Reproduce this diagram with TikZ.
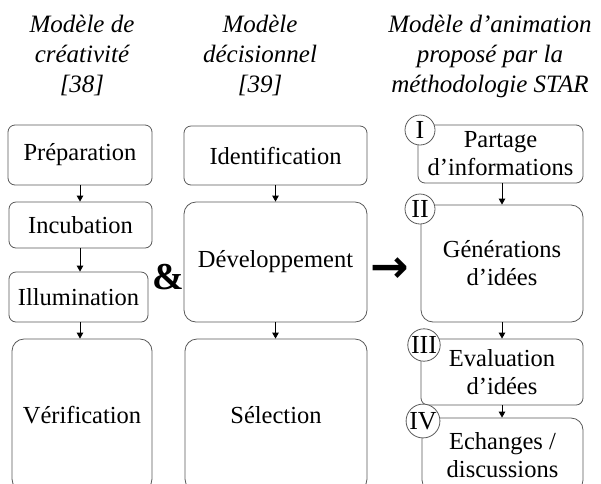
\documentclass[tikz,border=0pt]{standalone}
\usepackage{fontspec}
\setmainfont{Liberation Serif}
\newfontfamily\symfont{DejaVu Sans}
\usetikzlibrary{arrows.meta}
\begin{document}
\begin{tikzpicture}[x=1pt,y=-1pt,
  box/.style={draw=black!65, line width=0.8pt, rounded corners=#1, inner sep=0pt, align=center, font=\fontsize{24.5}{28}\selectfont},
  box/.default=7pt,
  hdr/.style={anchor=north, inner sep=0pt, align=center, font=\fontsize{25}{30}\selectfont\itshape},
  num/.style={circle, draw=black!65, line width=0.8pt, fill=white, inner sep=0.5pt, minimum size=30pt, font=\fontsize{26}{26}\selectfont},
  arr/.style={-{Triangle[length=6pt,width=6.5pt]}, line width=0.9pt, black}]
\clip (0,0) rectangle (601,483);
% headers
\node[hdr] (h1) at (82,14.5) {Modèle de\\créativité\\{[38]}};
\node[hdr] (h2) at (260,14.5) {Modèle\\décisionnel\\{[39]}};
\node[hdr] (h3) at (490,14.5) {Modèle d’animation\\proposé par la\\méthodologie STAR};
% column 1
\node[box, minimum width=144pt, minimum height=60pt] (prep) at (80,155) {Préparation};
\node[box, minimum width=143pt, minimum height=46pt] (incub) at (80.5,225) {Incubation};
\node[box, minimum width=139pt, minimum height=50pt] (illum) at (78.5,297) {Illumination};
\node[box=12pt, minimum width=140pt, minimum height=152pt] (verif) at (82,415) {Vérification};
\draw[arr] (prep.south) -- (prep.south |- incub.north);
\draw[arr] (prep.south |- incub.south) -- (prep.south |- illum.north);
\draw[arr] (prep.south |- illum.south) -- (prep.south |- verif.north);
% column 2
\node[box, minimum width=183pt, minimum height=59pt] (ident) at (275.5,155.5) {Identification};
\node[box=12pt, minimum width=183pt, minimum height=120pt] (dev) at (275.5,262) {Développement};
\node[box=12pt, minimum width=182pt, minimum height=152pt] (sel) at (276,415) {Sélection};
\draw[arr] (ident.south) -- (dev.north);
\draw[arr] (dev.south) -- (dev.south |- sel.north);
% symbols
\node[inner sep=0pt, font=\fontsize{38}{38}\selectfont\bfseries] (amp) at (168,277) {\&};
\node[inner sep=0pt, font=\fontsize{46}{46}\selectfont\symfont\bfseries] (to) at (390,270) {→};
% column 3
\node[box, minimum width=165pt, minimum height=58pt] (part) at (500.5,154) {Partage\\d’informations};
\node[box=12pt, minimum width=162pt, minimum height=117pt] (gen) at (502,263.5) {Générations\\d’idées};
\node[box, minimum width=162pt, minimum height=66pt] (eval) at (502,372) {Evaluation\\d’idées};
\node[box=12pt, minimum width=161pt, minimum height=74pt] (ech) at (502.5,455) {Echanges /\\discussions};
\draw[arr] (gen.north |- part.south) -- (gen.north);
\draw[arr] (gen.south) -- (eval.north);
\draw[arr] (eval.south) -- (eval.south |- ech.north);
\node[num] (n1) at (420,130) {I};
\node[num] (n2) at (420,209) {II};
\node[num] (n3) at (424,345) {III};
\node[num] (n4) at (423,421) {IV};
\end{tikzpicture}
\end{document}
